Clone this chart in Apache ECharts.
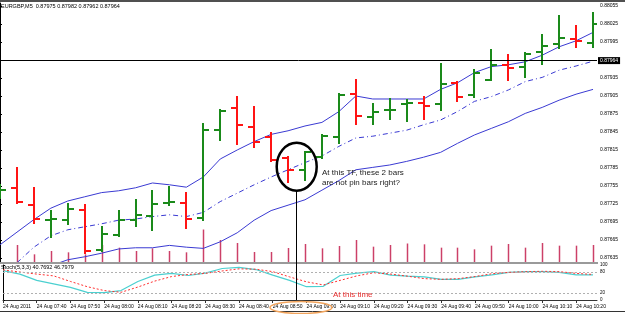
<!DOCTYPE html>
<html>
<head>
<meta charset="utf-8">
<script src="https://cdn.jsdelivr.net/npm/echarts@6/dist/echarts.min.js"></script>
<style>
  html, body { margin: 0; padding: 0; background: #fff; }
  #chart { width: 625px; height: 314px; }
</style>
</head>
<body>
<div id="chart"></div>
<script>
// EURGBP M5 bars, one per 5 minutes starting 07:30 (bar 0 is cut by the left edge)
var opens  = [0.87740, 0.87751, 0.87724, 0.87698, 0.87698, 0.87715, 0.87648, 0.87673, 0.87698, 0.87705, 0.87727, 0.87726, 0.87701, 0.87848, 0.87885, 0.87854, 0.87837, 0.87801, 0.87782, 0.87804, 0.87837, 0.87909, 0.87870, 0.87881, 0.87892, 0.87893, 0.87891, 0.87927, 0.87906, 0.87932, 0.87957, 0.87953, 0.87978, 0.87992, 0.88000, 0.87993];
var highs  = [0.87757, 0.87785, 0.87751, 0.87714, 0.87725, 0.87723, 0.87687, 0.87714, 0.87731, 0.87747, 0.87753, 0.87743, 0.87858, 0.87882, 0.87903, 0.87887, 0.87844, 0.87804, 0.87812, 0.87840, 0.87908, 0.87931, 0.87891, 0.87900, 0.87899, 0.87904, 0.87958, 0.87929, 0.87948, 0.87982, 0.87973, 0.87976, 0.88007, 0.88038, 0.88022, 0.88043];
var lows   = [0.87735, 0.87727, 0.87693, 0.87670, 0.87691, 0.87643, 0.87646, 0.87672, 0.87688, 0.87681, 0.87723, 0.87685, 0.87698, 0.87832, 0.87825, 0.87820, 0.87797, 0.87762, 0.87765, 0.87801, 0.87827, 0.87858, 0.87858, 0.87866, 0.87863, 0.87866, 0.87881, 0.87897, 0.87904, 0.87931, 0.87932, 0.87937, 0.87958, 0.87985, 0.87986, 0.87987];
var closes = [0.87749, 0.87728, 0.87700, 0.87700, 0.87716, 0.87646, 0.87675, 0.87698, 0.87706, 0.87725, 0.87728, 0.87700, 0.87848, 0.87880, 0.87857, 0.87829, 0.87798, 0.87782, 0.87811, 0.87838, 0.87907, 0.87872, 0.87878, 0.87882, 0.87894, 0.87888, 0.87925, 0.87903, 0.87943, 0.87957, 0.87951, 0.87975, 0.87988, 0.88002, 0.87997, 0.88025];

// bollinger bands
var bandUpper  = [0.87657, 0.87678, 0.87699, 0.87718, 0.87730, 0.87737, 0.87744, 0.87747, 0.87752, 0.87760, 0.87757, 0.87753, 0.87770, 0.87800, 0.87815, 0.87829, 0.87841, 0.87847, 0.87855, 0.87861, 0.87879, 0.87905, 0.87900, 0.87900, 0.87900, 0.87900, 0.87916, 0.87927, 0.87944, 0.87954, 0.87957, 0.87962, 0.87973, 0.87987, 0.87997, 0.88011];
var bandMiddle = [null, 0.87627, 0.87653, 0.87672, 0.87682, 0.87687, 0.87692, 0.87698, 0.87700, 0.87704, 0.87707, 0.87704, 0.87711, 0.87729, 0.87743, 0.87757, 0.87770, 0.87782, 0.87794, 0.87805, 0.87821, 0.87835, 0.87838, 0.87843, 0.87848, 0.87857, 0.87865, 0.87879, 0.87896, 0.87904, 0.87915, 0.87929, 0.87936, 0.87948, 0.87955, 0.87963];
var bandLower  = [null, null, null, 0.87622, 0.87632, 0.87637, 0.87643, 0.87650, 0.87652, 0.87652, 0.87656, 0.87653, 0.87651, 0.87662, 0.87677, 0.87698, 0.87714, 0.87723, 0.87732, 0.87748, 0.87764, 0.87782, 0.87786, 0.87790, 0.87796, 0.87803, 0.87811, 0.87826, 0.87840, 0.87851, 0.87862, 0.87876, 0.87886, 0.87898, 0.87908, 0.87916];

var volumes = [null, 102, 46, 66, 58, 46, 102, 86, 66, 82, 66, 58, 195, 132, 114, 60, 60, 84, 108, 82, 96, 132, 92, 102, 111, 106, 86, 86, 76, 98, 108, 86, 114, 98, 98, 102];

// stochastic (5,3,3)
var stochMain   = [84, 74, 56, 46, 36, 22, 21, 27, 53, 71, 76, 70, 77, 90, 93, 87, 71, 56, 38, 39, 70, 77, 81, 71, 68, 66, 59, 59, 66, 72, 79, 81, 81, 79, 72, 72];
var stochSignal = [86, 80, 74, 69, 53, 38, 27, 22, 37, 54, 67, 73, 76, 83, 89, 88, 81, 66, 52, 43, 56, 69, 78, 74, 68, 61, 59, 61, 67, 75, 79, 81, 82, 81, 76, 73];

var timeTicks  = [0, 2, 4, 6, 8, 10, 12, 14, 16, 18, 20, 22, 24, 26, 28, 30, 32, 34];
var timeLabels = ['24 Aug 2011', '24 Aug 07:40', '24 Aug 07:50', '24 Aug 08:00', '24 Aug 08:10', '24 Aug 08:20', '24 Aug 08:30', '24 Aug 08:40', '24 Aug 08:50', '24 Aug 09:00', '24 Aug 09:10', '24 Aug 09:20', '24 Aug 09:30', '24 Aug 09:40', '24 Aug 09:50', '24 Aug 10:00', '24 Aug 10:10', '24 Aug 10:20'];
var priceLabels = [0.88055, 0.88025, 0.87995, 0.87935, 0.87905, 0.87875, 0.87845, 0.87815, 0.87785, 0.87755, 0.87725, 0.87695, 0.87665, 0.87635];
var priceTicks  = [0.88055, 0.88025, 0.87995, 0.87965, 0.87935, 0.87905, 0.87875, 0.87845, 0.87815, 0.87785, 0.87755, 0.87725, 0.87695, 0.87665, 0.87635];
var lastPrice = 0.87964;
var stochLevels = [20, 80];

var UP = '#1a8a1a';
var DOWN = '#ff1414';
var BAND = '#3a3ad2';
var FONT = 'Liberation Sans';

function pairs(arr) {
  var out = [];
  for (var i = 0; i < arr.length; i++) out.push([i, arr[i]]);
  return out;
}

var ohlc = [];
for (var i = 0; i < opens.length; i++) {
  ohlc.push([i, opens[i], highs[i], lows[i], closes[i]]);
}

function renderBar(params, api) {
  var j = api.value(0);
  var o = api.coord([j, api.value(1)]);
  var h = api.coord([j, api.value(2)]);
  var l = api.coord([j, api.value(3)]);
  var c = api.coord([j, api.value(4)]);
  var x = Math.round(h[0]);
  var st = { stroke: api.value(4) >= api.value(1) ? UP : DOWN, lineWidth: 2 };
  return {
    type: 'group',
    children: [
      { type: 'line', shape: { x1: x, y1: Math.round(h[1]) - 1, x2: x, y2: Math.round(l[1]) + 1 }, style: st },
      { type: 'line', shape: { x1: x - 6, y1: Math.round(o[1]), x2: x, y2: Math.round(o[1]) }, style: st },
      { type: 'line', shape: { x1: x, y1: Math.round(c[1]), x2: x + 6, y2: Math.round(c[1]) }, style: st }
    ]
  };
}

function renderVolume(params, api) {
  var p = api.coord([api.value(0), api.value(1)]);
  var base = api.coord([api.value(0), 0]);
  var x = Math.round(p[0]) + 0.5;
  return {
    type: 'line',
    shape: { x1: x, y1: p[1], x2: x, y2: base[1] },
    style: { stroke: '#cc4068', lineWidth: 1.5 }
  };
}

var chart = echarts.init(document.getElementById('chart'), null, { renderer: 'canvas' });

var option = {
  animation: false,
  backgroundColor: '#ffffff',
  textStyle: { fontFamily: FONT },
  title: [
    { text: 'EURGBP,M5  0.87975 0.87982 0.87962 0.87964', left: 1, top: 3, padding: 0,
      textStyle: { fontSize: 5.5, fontWeight: 'normal', color: '#000', fontFamily: FONT } },
    { text: 'Stoch(5,3,3) 40.7692 46.7979', left: 1, top: 264, padding: 0,
      textStyle: { fontSize: 5.5, fontWeight: 'normal', color: '#000', fontFamily: FONT } }
  ],
  grid: [
    { left: -2, right: 28, top: 3, height: 259 },
    { left: -2, right: 28, top: 265, height: 35 }
  ],
  xAxis: [
    { type: 'value', gridIndex: 0, min: 0, max: 35.235, show: false },
    { type: 'value', gridIndex: 1, min: 0, max: 35.235,
      axisLine: { show: true, lineStyle: { color: '#333', width: 1 } },
      axisTick: { show: true, length: 3, customValues: timeTicks, lineStyle: { color: '#333' } },
      axisLabel: {
        customValues: timeTicks, fontSize: 5, color: '#000', margin: 4, align: 'left',
        formatter: function (v) { return timeLabels[timeTicks.indexOf(Math.round(v))] || ''; }
      },
      splitLine: { show: false } }
  ],
  yAxis: [
    { type: 'value', gridIndex: 0, position: 'right', min: 0.876283, max: 0.8806,
      axisLine: { show: true, lineStyle: { color: '#000', width: 1 } },
      axisTick: { show: true, length: 2, customValues: priceTicks, lineStyle: { color: '#000' } },
      axisLabel: { customValues: priceLabels, fontSize: 5, color: '#000', margin: 3,
        formatter: function (v) { return v.toFixed(5); } },
      splitLine: { show: false } },
    { type: 'value', gridIndex: 0, min: 0, max: 1554, show: false },
    { type: 'value', gridIndex: 1, position: 'right', min: 0, max: 100,
      axisLine: { show: true, lineStyle: { color: '#000', width: 1 } },
      axisTick: { show: true, length: 2, customValues: [0, 20, 80, 100], lineStyle: { color: '#000' } },
      axisLabel: { customValues: [0, 20, 80, 100], fontSize: 4.5, color: '#000', margin: 3 },
      splitLine: { show: false } }
  ],
  series: [
    { type: 'custom', xAxisIndex: 0, yAxisIndex: 1, renderItem: renderVolume,
      data: pairs(volumes).filter(function (d) { return d[1] != null; }), clip: true, z: 1 },
    { type: 'line', xAxisIndex: 0, yAxisIndex: 0, data: pairs(bandUpper), symbol: 'none',
      lineStyle: { color: BAND, width: 1 }, z: 2,
      markLine: {
        silent: true, symbol: ['none', 'none'], precision: 5,
        data: [{ yAxis: lastPrice }],
        lineStyle: { color: '#000', width: 1, type: 'solid' },
        label: { position: 'end', formatter: lastPrice.toFixed(5), backgroundColor: '#000', color: '#fff',
          fontSize: 5, padding: [1, 2, 1, 2], distance: 1, fontFamily: FONT }
      } },
    { type: 'line', xAxisIndex: 0, yAxisIndex: 0, data: pairs(bandMiddle), symbol: 'none',
      lineStyle: { color: BAND, width: 1, type: [5, 3, 1, 3] }, z: 2 },
    { type: 'line', xAxisIndex: 0, yAxisIndex: 0, data: pairs(bandLower), symbol: 'none',
      lineStyle: { color: BAND, width: 1 }, z: 2 },
    { type: 'custom', xAxisIndex: 0, yAxisIndex: 0, renderItem: renderBar, data: ohlc, clip: true, z: 3 },
    { type: 'line', xAxisIndex: 1, yAxisIndex: 2, data: pairs(stochMain), symbol: 'none',
      lineStyle: { color: '#4cd0d0', width: 1.2 }, z: 2,
      markLine: {
        silent: true, symbol: ['none', 'none'], label: { show: false },
        data: stochLevels.map(function (v) { return { yAxis: v }; }),
        lineStyle: { color: '#b0b0b0', width: 1, type: [2, 2] }
      } },
    { type: 'line', xAxisIndex: 1, yAxisIndex: 2, data: pairs(stochSignal), symbol: 'none',
      lineStyle: { color: '#ff3030', width: 1, type: [2, 2] }, z: 3 }
  ],
  graphic: [
    { type: 'rect', shape: { x: 0, y: 0, width: 625, height: 2 }, style: { fill: '#505050' }, z: 10 },
    { type: 'rect', shape: { x: 0, y: 262, width: 598, height: 2 }, style: { fill: '#9a9a9a' }, z: 10 },
    { type: 'line', shape: { x1: 0, y1: 311.5, x2: 625, y2: 311.5 }, style: { stroke: '#333', lineWidth: 1 }, z: 10 },
    { type: 'ellipse', shape: { cx: 296.7, cy: 166.7, rx: 20, ry: 24 },
      style: { fill: null, stroke: '#000', lineWidth: 2.5 }, z: 20 },
    { type: 'line', shape: { x1: 296.5, y1: 190.5, x2: 296.5, y2: 300 }, style: { stroke: '#000', lineWidth: 1 }, z: 20 },
    { type: 'text', x: 322, y: 168, z: 20,
      style: { text: 'At this TF, these 2 bars\nare not pin bars right?', font: '8px "Liberation Sans"', fill: '#222', lineHeight: 10 } },
    { type: 'text', x: 333, y: 291, z: 20,
      style: { text: 'At this time', font: '8px "Liberation Sans"', fill: '#e83030' } },
    { type: 'ellipse', shape: { cx: 301, cy: 307.5, rx: 31, ry: 6 },
      style: { fill: null, stroke: '#f2a45c', lineWidth: 1.5 }, z: 20 }
  ]
};

chart.setOption(option);
</script>
</body>
</html>
